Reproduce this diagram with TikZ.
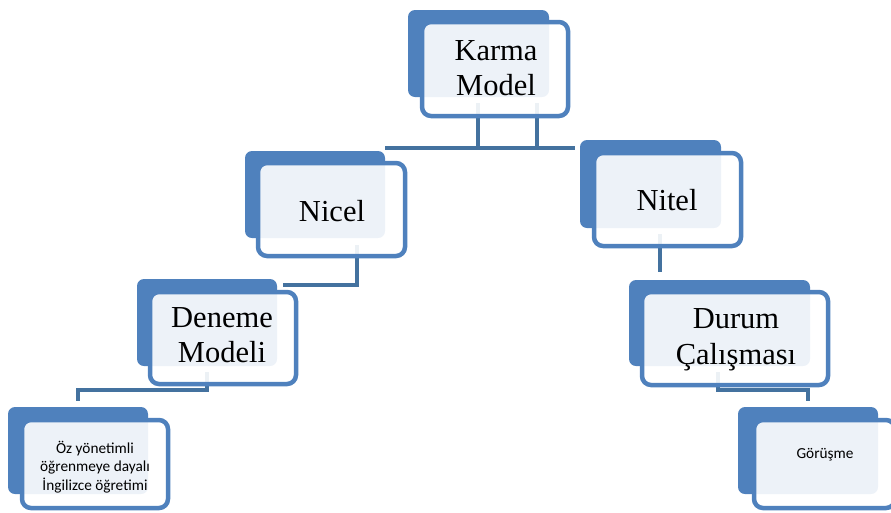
\documentclass[tikz,border=0pt]{standalone}
\usepackage{fontspec}
\setmainfont{Liberation Serif}
\newfontfamily\calib{Carlito}
\usetikzlibrary{calc,backgrounds}
\definecolor{blk}{HTML}{4F81BD}
\definecolor{conncol}{HTML}{44729F}
\begin{document}
\begin{tikzpicture}[x=1pt,y=-1pt,
  back/.style={fill=blk, draw=none, rounded corners=7pt, inner sep=0pt, outer sep=0pt},
  front/.style={draw=blk, line width=4.5pt, fill=white, fill opacity=0.9, rounded corners=9pt, inner sep=0pt, outer sep=0pt},
  big/.style={font=\fontsize{30.5}{35.5}\selectfont, align=center, inner sep=0pt},
  small/.style={font=\calib\fontsize{15.3}{18.5}\selectfont, align=center, inner sep=0pt},
  conn/.style={draw=conncol, line width=4pt}]
\useasboundingbox (0,0) rectangle (891,512);
\clip (0,0) rectangle (891,512);

% Karma Model
\node[back, minimum width=141pt, minimum height=87pt] (karma-back) at (478.5,53.5) {};
\node[front, minimum width=146pt, minimum height=94pt] (karma) at (495,69) {};
\node[big] (karma-t) at (496,68) {Karma\\Model};

% Nicel
\node[back, minimum width=140pt, minimum height=87pt] (nicel-back) at (315,194.5) {};
\node[front, minimum width=147pt, minimum height=93pt] (nicel) at (331.5,209.5) {};
\node[big] (nicel-t) at (332,211) {Nicel};

% Deneme Modeli
\node[back, minimum width=140pt, minimum height=87pt] (deneme-back) at (207,322.5) {};
\node[front, minimum width=146pt, minimum height=92pt] (deneme) at (223,338) {};
\node[big] (deneme-t) at (222,335) {Deneme\\Modeli};

% Oz yonetimli
\node[back, minimum width=140pt, minimum height=87pt] (oz-back) at (78,450.5) {};
\node[front, minimum width=146pt, minimum height=88pt] (oz) at (95,464) {};
\node[small] (oz-t) at (95,467) {Öz yönetimli\\öğrenmeye dayalı\\İngilizce öğretimi};

% Nitel
\node[back, minimum width=141pt, minimum height=88pt] (nitel-back) at (650.5,184) {};
\node[front, minimum width=147pt, minimum height=93pt] (nitel) at (667.5,199.5) {};
\node[big] (nitel-t) at (667,200) {Nitel};

% Durum Calismasi
\node[back, minimum width=181pt, minimum height=86pt] (durum-back) at (719.5,323) {};
\node[front, minimum width=186pt, minimum height=93pt] (durum) at (735,338.5) {};
\node[big] (durum-t) at (736,340) {Durum\\Çalışması};

% Gorusme
\node[back, minimum width=140pt, minimum height=87pt] (gor-back) at (808,450.5) {};
\node[front, minimum width=141pt, minimum height=88pt] (gor) at (824.5,464) {};
\node[small] (gor-t) at (825,455) {Görüşme};

% connectors
\begin{scope}[on background layer]
  \coordinate (hl) at ($(nicel-back.north east)+(0,-3)$);
  \coordinate (hr) at ($(nitel-back.north west)+(-5,8)$);
  \draw[conn] (hl) -- (hl -| hr);
  \draw[conn] ($(karma.south)+(-17,-13)$) -- ++(0,45);
  \draw[conn] ($(karma.south)+(42,-13)$) -- ++(0,45);
  \draw[conn] ($(nicel.south)+(25.5,-11)$) |- ($(deneme-back.north east)+(6,6)$);
  \draw[conn] ($(deneme.south)+(-16,-12)$) -- ++(0,18) -| ($(oz-back.north)+(0,-6)$);
  \coordinate (dtop) at ($(durum-back.north)+(0,-8)$);
  \draw[conn] ($(nitel.south)+(-7.5,-12)$) coordinate (nv) -- (nv |- dtop);
  \draw[conn] ($(durum.south)+(-17,-13)$) -- ++(0,18) -| ($(gor-back.north)+(0,-6)$);
\end{scope}
\end{tikzpicture}
\end{document}
